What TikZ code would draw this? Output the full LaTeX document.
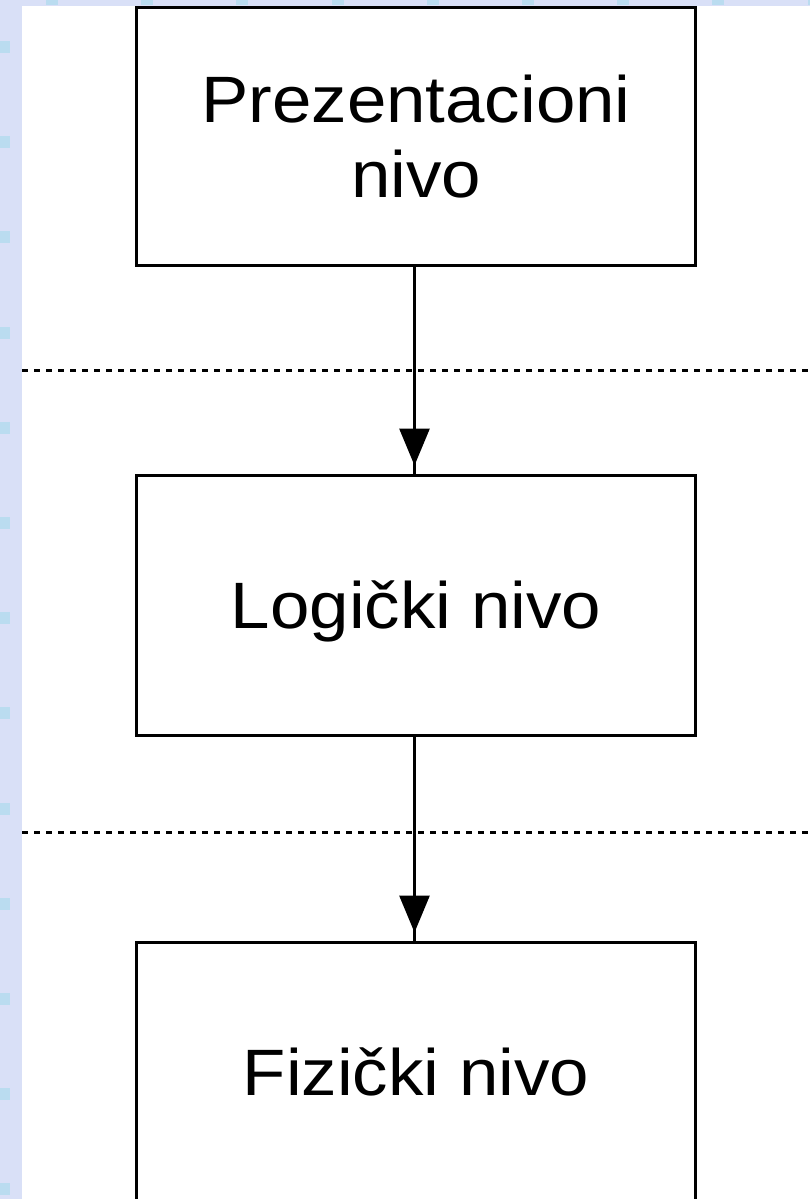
\documentclass[tikz,border=0pt]{standalone}
\usepackage{fontspec}
\newfontfamily\lblfont[FakeStretch=1.08]{Liberation Sans}
\usetikzlibrary{arrows.meta,decorations.markings}
\definecolor{bgblue}{RGB}{217,224,247}
\definecolor{sqblue}{RGB}{186,220,240}
\tikzset{
  levelbox/.style={draw=black, line width=3pt, fill=white, inner sep=0pt,
    minimum width=559pt, font=\lblfont\fontsize{65.6pt}{75pt}\selectfont,
    align=center, text depth=0pt},
  sepline/.style={line width=3pt, dash pattern=on 6pt off 6pt},
  flow/.style={line width=3pt, postaction={decorate, decoration={markings,
    mark=at position -8pt with {\arrow{Triangle[width=30pt,length=37pt]}}}}}
}
\begin{document}
\begin{tikzpicture}[x=1pt,y=-1pt]
\useasboundingbox (0,0) rectangle (810,1199);
\clip (0,0) rectangle (810,1199);
% background
\fill[bgblue] (0,0) rectangle (810,1199);
\foreach \k in {0,...,12} {\fill[sqblue] (0,41+95.2*\k) rectangle (10,53+95.2*\k);}
\foreach \k in {0,...,8} {\fill[sqblue] (46+95.2*\k,0) rectangle (58+95.2*\k,5);}
\fill[white] (22,6) rectangle (810,1199);
% separators
\draw[sepline] (22,370) -- (810,370);
\draw[sepline] (22,832) -- (810,832);
% boxes
\node[levelbox, minimum height=257.5pt, text height=122pt] (p) at (416,136.25) {Prezentacioni\\nivo};
\node[levelbox, minimum height=260pt, text height=47pt] (l) at (416,605) {Logički nivo};
\node[levelbox, minimum height=260pt, text height=47pt] (f) at (416,1072) {Fizički nivo};
% connectors
\coordinate (ax) at (414.5,0);
\draw[flow] (p.south -| ax) -- (l.north -| ax);
\draw[flow] (l.south -| ax) -- (f.north -| ax);
\end{tikzpicture}
\end{document}
